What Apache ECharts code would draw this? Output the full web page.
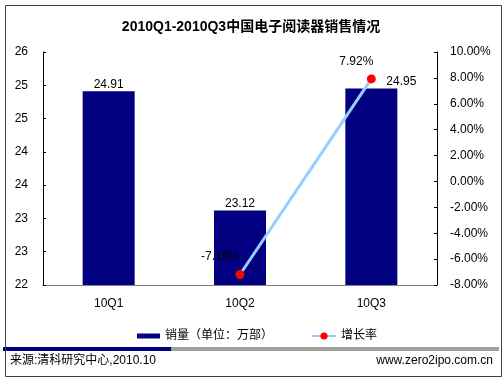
<!DOCTYPE html>
<html>
<head>
<meta charset="utf-8">
<script src="https://cdn.jsdelivr.net/npm/echarts@6/dist/echarts.min.js"></script>
<style>
html,body{margin:0;padding:0;background:#fff;}
#c{width:502px;height:383px;}
</style>
</head>
<body>
<div id="c"></div>
<script>
var categories = ['10Q1', '10Q2', '10Q3'];
var salesValues = [24.91, 23.12, 24.95];
var growthValues = [null, -7.19, 7.92];
var leftTicks = {min: 22, max: 25.5, interval: 0.5};
var rightTicks = {min: -8, max: 10, interval: 2};
var titleText = '2010Q1-2010Q3中国电子阅读器销售情况';
var salesName = '销量（单位：万部）';
var growthName = '增长率';
var sourceText = '来源:清科研究中心,2010.10';
var siteText = 'www.zero2ipo.com.cn';

var FONT = "'Liberation Sans', Arial, 'Noto Sans CJK SC', sans-serif";
var chart = echarts.init(document.getElementById('c'));

var barData = salesValues.map(function (v, i) {
  var d = {value: v};
  if (i === 2) d.label = {offset: [30, 0]};
  return d;
});
var lineData = growthValues.map(function (v, i) {
  var d = {value: v};
  if (i === 1) d.label = {offset: [-20, 0]};
  if (i === 2) d.label = {offset: [-15, 0]};
  return d;
});

chart.setOption({
  backgroundColor: '#fff',
  animation: false,
  textStyle: {fontFamily: FONT},
  title: {
    text: titleText,
    left: 'center',
    top: 15,
    textStyle: {fontSize: 14, fontWeight: 'bold', color: '#000', fontFamily: FONT}
  },
  grid: {left: 43, right: 65, top: 52, bottom: 98},
  legend: [{
    data: [salesName],
    left: 132, top: 325,
    itemWidth: 23, itemHeight: 5, icon: 'rect',
    textStyle: {fontSize: 12, color: '#000', fontFamily: FONT},
    itemGap: 4
  }, {
    data: [growthName],
    left: 306, top: 325,
    itemWidth: 24, itemHeight: 9,
    textStyle: {fontSize: 12, color: '#000', fontFamily: FONT}
  }],
  xAxis: {
    type: 'category',
    data: categories,
    boundaryGap: true,
    axisLine: {onZero: false, lineStyle: {color: '#808080', width: 1}},
    axisTick: {inside: true, length: 5, lineStyle: {color: '#000'}},
    axisLabel: {fontSize: 12, color: '#000', margin: 13, fontFamily: FONT}
  },
  yAxis: [{
    type: 'value',
    min: leftTicks.min, max: leftTicks.max, interval: leftTicks.interval,
    axisLine: {show: true, onZero: false, lineStyle: {color: '#000'}},
    axisTick: {show: true, inside: true, length: 3, lineStyle: {color: '#000'}},
    splitLine: {show: false},
    axisLabel: {fontSize: 12, color: '#000', margin: 15, fontFamily: FONT,
      formatter: function (v) { return String(Math.round(v)); }}
  }, {
    type: 'value',
    min: rightTicks.min, max: rightTicks.max, interval: rightTicks.interval,
    axisLine: {show: true, onZero: false, lineStyle: {color: '#000'}},
    axisTick: {show: true, inside: true, length: 3, lineStyle: {color: '#000'}},
    splitLine: {show: false},
    axisLabel: {fontSize: 12, color: '#000', margin: 13, fontFamily: FONT,
      formatter: function (v) { return v.toFixed(2) + '%'; }}
  }],
  series: [{
    name: salesName,
    type: 'bar',
    yAxisIndex: 0,
    data: barData,
    barWidth: 52,
    itemStyle: {color: '#000080'},
    label: {show: true, position: 'top', distance: 1, fontSize: 12, color: '#000', fontFamily: FONT,
      formatter: function (p) { return p.value.toFixed(2); }}
  }, {
    name: growthName,
    type: 'line',
    yAxisIndex: 1,
    data: lineData,
    symbol: 'circle',
    symbolSize: 9,
    lineStyle: {color: '#99CCFF', width: 3},
    itemStyle: {color: '#FF0000'},
    z: 5,
    label: {show: true, position: 'top', distance: 7, fontSize: 12, color: '#000', fontFamily: FONT,
      formatter: function (p) { return p.value.toFixed(2) + '%'; }}
  }],
  graphic: [{
    type: 'rect', left: 3, top: 3,
    shape: {width: 496, height: 371},
    style: {fill: 'none', stroke: '#404040', lineWidth: 1}, z: 100
  }, {
    type: 'rect', left: 3, top: 347,
    shape: {width: 168, height: 4},
    style: {fill: '#000080'}
  }, {
    type: 'rect', left: 171, top: 347,
    shape: {width: 328, height: 4},
    style: {fill: '#A0A0A0'}
  }, {
    type: 'text', left: 10, top: 355,
    style: {text: sourceText, fontSize: 12, fill: '#000', fontFamily: FONT}
  }, {
    type: 'text', right: 9, top: 355,
    style: {text: siteText, fontSize: 12, fill: '#000', fontFamily: FONT}
  }]
});
</script>
</body>
</html>
